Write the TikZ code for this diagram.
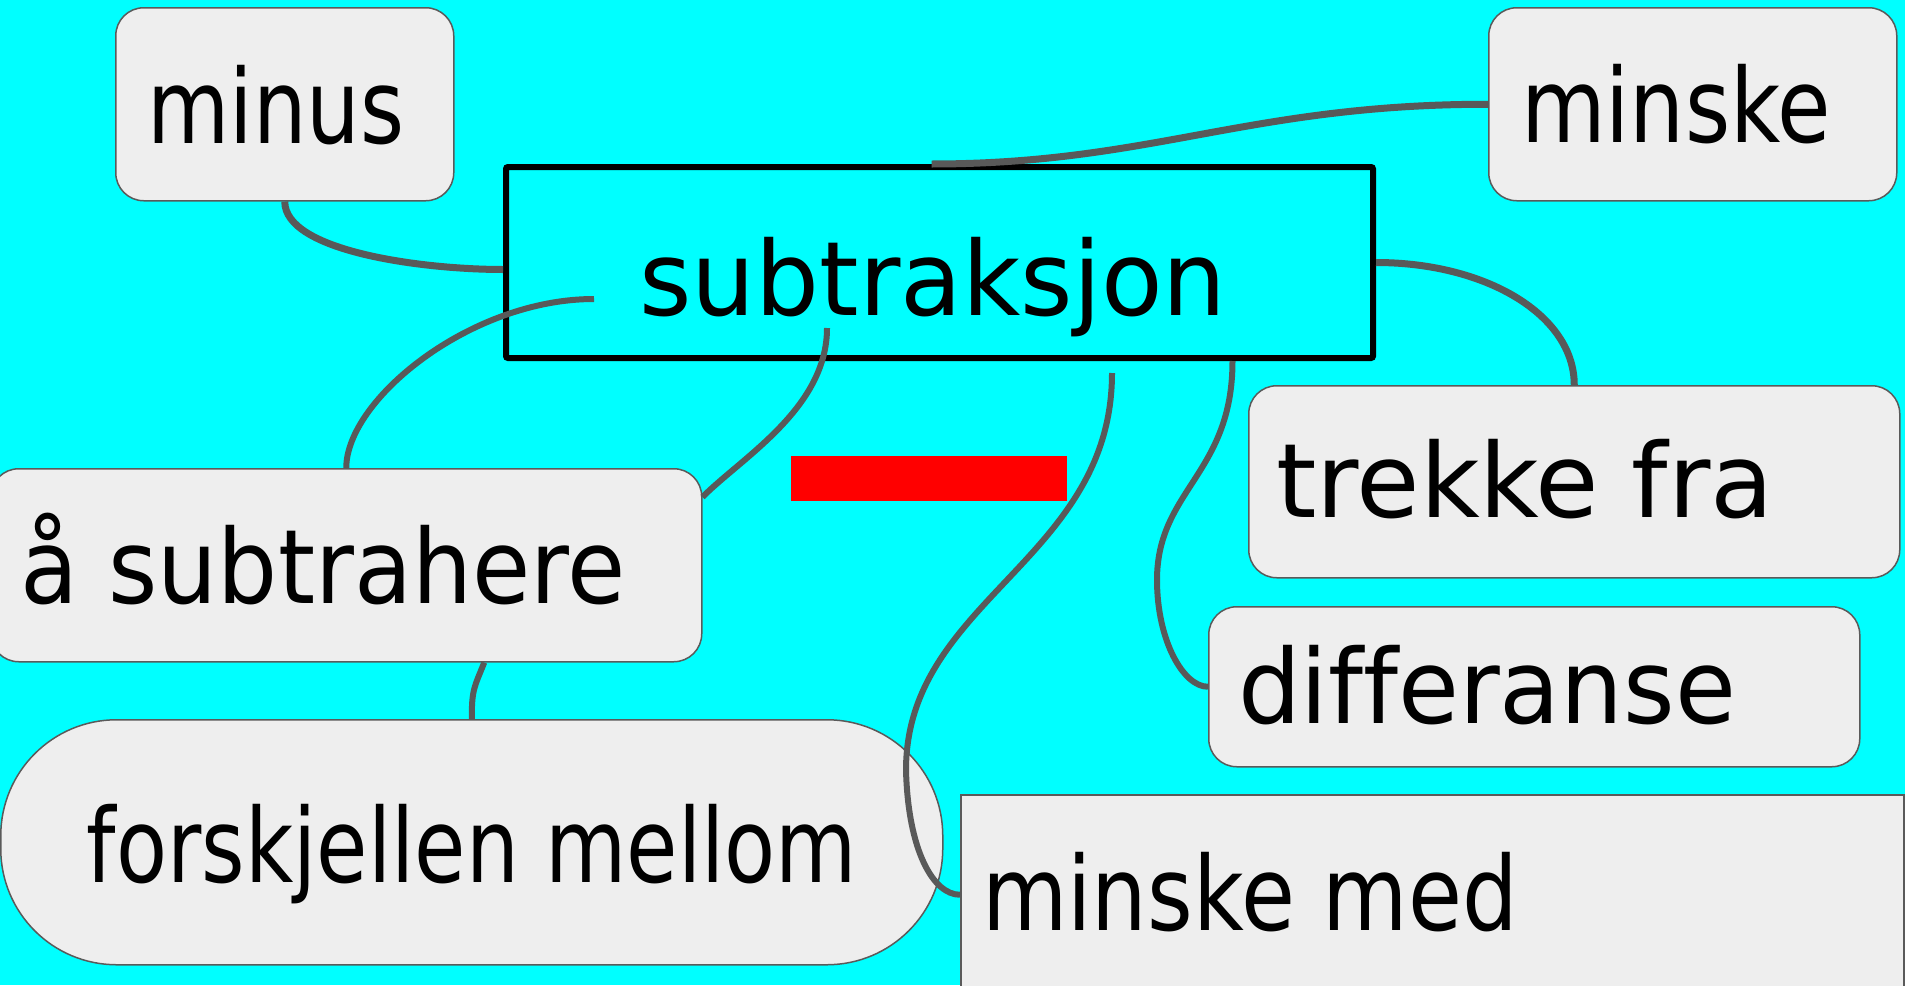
\documentclass[tikz,border=0pt]{standalone}
\usepackage{fontspec}
\usepackage{graphicx}
\setmainfont[Ligatures=NoCommon]{DejaVu Sans}
\definecolor{bgcyan}{HTML}{00FFFF}
\definecolor{boxfill}{HTML}{EEEEEE}
\definecolor{boxline}{HTML}{5A5A5A}
\definecolor{linkgray}{HTML}{595959}
\newcommand\fitw[2]{\resizebox{#1}{\height}{#2}}
\tikzset{
  wordbox/.style={draw=boxline, fill=boxfill, line width=1.5pt, rounded corners=28pt, inner sep=0pt, anchor=north west},
  lbl/.style={anchor=base, inner sep=0pt, font=\fontsize{103pt}{110pt}\selectfont, text=black},
  link/.style={draw=linkgray, line width=6pt},
  thicklink/.style={draw=linkgray, line width=7pt},
}
\begin{document}
\begin{tikzpicture}[x=1pt,y=-1pt]
\useasboundingbox (0,0) rectangle (1905,985);
\fill[bgcyan] (0,0) rectangle (1905,985);
% boxes
\node[wordbox, minimum width=338pt, minimum height=193pt] (minus) at (115,7) {};
\node[wordbox, minimum width=408pt, minimum height=193pt] (minske) at (1488,7) {};
\node[draw=black, line width=6pt, rounded corners=2pt, inner sep=0pt, anchor=north west, minimum width=867pt, minimum height=191pt] (sub) at (503,164) {};
\node[wordbox, minimum width=651pt, minimum height=192pt] (trekke) at (1248,385) {};
\node[wordbox, minimum width=651pt, minimum height=160pt] (diff) at (1208,606) {};
\node[wordbox, rounded corners=0pt, minimum width=943pt, minimum height=200pt] (mm) at (960,794) {};
\node[wordbox, minimum width=711pt, minimum height=193pt] (asub) at (-10,468) {};
\node[wordbox, rounded corners=116pt, minimum width=942pt, minimum height=245pt] (forsk) at (0,719) {};
\node[fill=red, inner sep=0pt, anchor=north west, minimum width=276pt, minimum height=45pt] (minusbar) at (791,456) {};
% texts
\node[lbl] (tminus) at (276,143) {\fitw{257pt}{minus}};
\node[lbl] (tsub) at (933,315) {\fitw{587pt}{subtraksjon}};
\node[lbl] (tminske) at (1676,142) {\fitw{310pt}{minske}};
\node[lbl] (ttrekke) at (1525,517) {\fitw{498pt}{trekke fra}};
\node[lbl] (tdiff) at (1487,723) {\fitw{498pt}{differanse}};
\node[lbl] (tmm) at (1250,930) {\fitw{536pt}{minske med}};
\node[lbl] (tasub) at (323,603) {\fitw{605pt}{å subtrahere}};
\node[lbl] (tforsk) at (472,882) {\fitw{770pt}{forskjellen mellom}};
% connector ends inside / near the central box
\coordinate (s1) at (594,299);
\coordinate (s2) at (827,328);
\coordinate (s3) at (1112,373);
% connectors
\draw[thicklink] (minus.south) .. controls +(0,50) and +(-80,0) .. ([yshift=-7pt]sub.west);
\draw[thicklink] ([xshift=-8pt]sub.north) .. controls +(220,0) and +(-240,0) .. (minske.west);
\draw[thicklink] (sub.east) .. controls +(110,0) and +(0,-70) .. (trekke.north);
\draw[link] (s1) .. controls +(-124,0) and +(0,-68) .. (asub.north);
\draw[link] (s2) .. controls +(0,80) and +(40,-40) .. ([yshift=-29pt]asub.north east);
\draw[link] ([xshift=138pt]asub.south) .. controls +(-10,25) and +(0,-30) .. (forsk.north);
\draw[link] (s3) .. controls +(0,187) and +(0,-170) .. (906,770) .. controls +(2,80) and +(-27,0) .. (mm.west);
\draw[link] ([xshift=293pt]sub.south) .. controls +(0,113) and +(0,-90) .. (1157,580) .. controls +(0,60) and +(-25,0) .. (diff.west);
\end{tikzpicture}
\end{document}
